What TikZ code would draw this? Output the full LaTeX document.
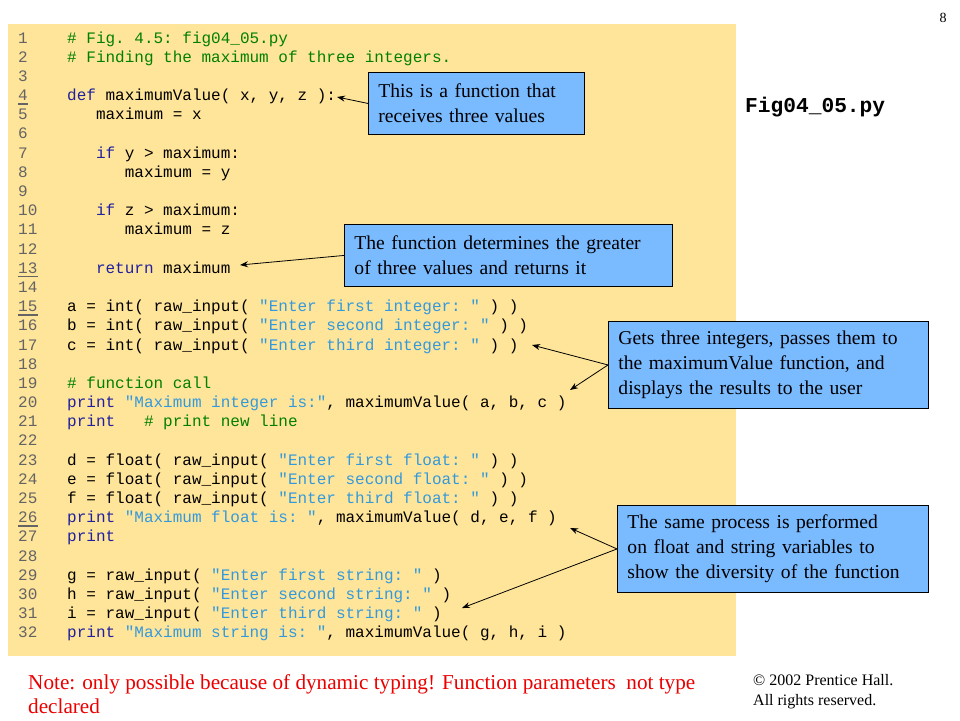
\documentclass[tikz,border=0pt]{standalone}
\usepackage{fontspec}
\setmainfont{Liberation Serif}
\setmonofont{Liberation Mono}
\usepackage{tikz}
\usetikzlibrary{positioning}
\usetikzlibrary{arrows.meta}

\definecolor{codebg}{RGB}{255,229,153}
\definecolor{callblue}{RGB}{122,186,255}
\definecolor{kwblue}{RGB}{32,32,160}
\definecolor{strblue}{RGB}{51,153,221}
\definecolor{cmtgreen}{RGB}{0,128,0}
\definecolor{numgray}{RGB}{100,100,100}
\definecolor{notered}{RGB}{235,0,0}

\newcommand{\kw}[1]{\textcolor{kwblue}{#1}}
\newcommand{\strg}[1]{\textcolor{strblue}{#1}}
\newcommand{\cmt}[1]{\textcolor{cmtgreen}{#1}}
\newcommand{\codeln}[2]{%
  \pgfmathsetmacro{\ly}{43+(#1-1)*19.19}%
  \node[codetxt] (c#1) at (67,\ly) {#2};}

\tikzset{
  codetxt/.style={anchor=base west, inner sep=0pt, font=\ttfamily\frenchspacing\fontsize{16}{19}\selectfont},
  numtxt/.style={codetxt, text=numgray},
  ulbar/.style={numgray, line width=1.6pt},
  callout/.style={draw=black, line width=0.9pt, fill=callblue, anchor=north west, align=left,
    font=\fontsize{19.6}{25}\selectfont, inner xsep=10pt, inner ysep=0pt},
  pointer/.style={->, line width=0.8pt}
}

\begin{document}
\begin{tikzpicture}[x=1pt,y=-1pt,>={Stealth[length=8pt,width=6pt]}]
\useasboundingbox (0,0) rectangle (960,720);
\fill[codebg] (8,24) rectangle (736,656);

% line numbers
\foreach \n in {1,...,32}
  \node[numtxt] (n\n) at (18,{43+(\n-1)*19.19}) {\n};
\foreach \n in {4,13,15,26}
  \draw[ulbar] ([yshift=-3pt]n\n.south west) -- ([yshift=-3pt]n\n.south east);

% code
\codeln{1}{\cmt{\# Fig. 4.5: fig04\_05.py}}
\codeln{2}{\cmt{\# Finding the maximum of three integers.}}
\codeln{4}{\kw{def} maximumValue( x, y, z ):}
\codeln{5}{~~~maximum = x}
\codeln{7}{~~~\kw{if} y > maximum:}
\codeln{8}{~~~~~~maximum = y}
\codeln{10}{~~~\kw{if} z > maximum:}
\codeln{11}{~~~~~~maximum = z}
\codeln{13}{~~~\kw{return} maximum}
\codeln{15}{a = int( raw\_input( \strg{"Enter first integer: "} ) )}
\codeln{16}{b = int( raw\_input( \strg{"Enter second integer: "} ) )}
\codeln{17}{c = int( raw\_input( \strg{"Enter third integer: "} ) )}
\codeln{19}{\cmt{\# function call}}
\codeln{20}{\kw{print} \strg{"Maximum integer is:"}, maximumValue( a, b, c )}
\codeln{21}{\kw{print}~~~\cmt{\# print new line}}
\codeln{23}{d = float( raw\_input( \strg{"Enter first float: "} ) )}
\codeln{24}{e = float( raw\_input( \strg{"Enter second float: "} ) )}
\codeln{25}{f = float( raw\_input( \strg{"Enter third float: "} ) )}
\codeln{26}{\kw{print} \strg{"Maximum float is: "}, maximumValue( d, e, f )}
\codeln{27}{\kw{print}}
\codeln{29}{g = raw\_input( \strg{"Enter first string: "} )}
\codeln{30}{h = raw\_input( \strg{"Enter second string: "} )}
\codeln{31}{i = raw\_input( \strg{"Enter third string: "} )}
\codeln{32}{\kw{print} \strg{"Maximum string is: "}, maximumValue( g, h, i )}

% callouts
\node[callout, text width=196pt, minimum height=62pt] (b1) at (368,72)
  {This is a function that\\receives three values};
\node[callout, text width=308pt, minimum height=62pt] (b2) at (344,224)
  {The function determines the greater\\of three values and returns it};
\node[callout, text width=300pt, minimum height=87pt] (b3) at (608,321)
  {Gets three integers, passes them to\\the maximumValue function, and\\displays the results to the user};
\node[callout, text width=291pt, minimum height=87pt] (b4) at (617,505)
  {The same process is performed\\on float and string variables to\\show the diversity of the function};

% arrow tips
\coordinate (t1) at (337,97);
\coordinate (t2) at (240,265);
\coordinate (t3a) at (532,345);
\coordinate (t3b) at (570,390);
\coordinate (t4a) at (570,528);
\coordinate (t4b) at (462,608);
\draw[pointer] (b1.west) -- (t1);
\draw[pointer] (b2.west) -- (t2);
\draw[pointer] (b3.west) -- (t3a);
\draw[pointer] (b3.west) -- (t3b);
\draw[pointer] (b4.west) -- (t4a);
\draw[pointer] (b4.west) -- (t4b);

% side texts
\node[font=\fontsize{14}{16}\selectfont] (pg) at (943,18) {8};
\node[anchor=west, inner sep=0pt, font=\ttfamily\bfseries\fontsize{21.2}{24}\selectfont] (fig) at (745,107) {Fig04\_05.py};
\node[anchor=west, inner sep=0pt, align=left, text=notered, font=\fontsize{21.2}{24}\selectfont] (note) at (28,694)
  {Note: only possible because of dynamic typing! Function parameters~ not type\\declared};
\node[anchor=west, inner sep=0pt, align=left, font=\fontsize{16}{20}\selectfont] (copy) at (753,692)
  {\textcopyright{} 2002 Prentice Hall.\\All rights reserved.};
\end{tikzpicture}
\end{document}
